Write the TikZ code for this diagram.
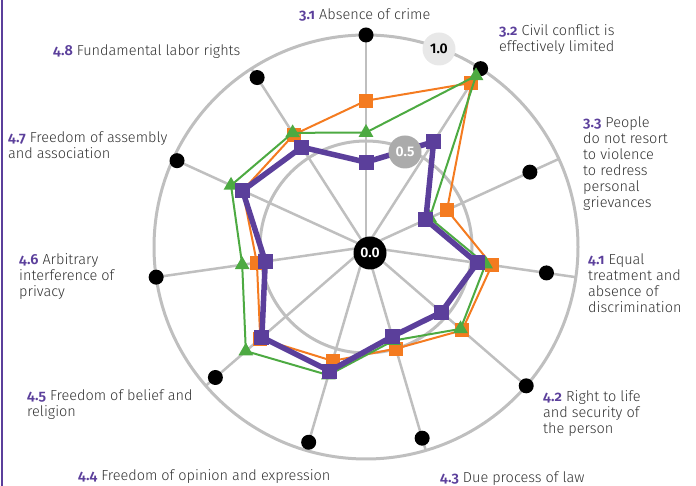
\documentclass[tikz,border=0pt]{standalone}
\usepackage{fontspec}
\setmainfont{Fira Sans}[UprightFont={* Light},BoldFont={* SemiBold}]
\newfontfamily\numfont{Fira Sans}[UprightFont={* SemiBold},Numbers=OldStyle]
\usetikzlibrary{shapes.geometric}

\definecolor{wjpurple}{HTML}{5B3F9B}
\definecolor{wjorange}{HTML}{F47B20}
\definecolor{wjgreen}{HTML}{4DAA42}
\definecolor{gridgray}{HTML}{BFBFBF}
\definecolor{txtgray}{HTML}{333333}
\newcommand{\factorno}[1]{{\numfont\color{wjpurple}#1}}

\begin{document}
\begin{tikzpicture}[x=1pt, y=1pt,
	spoke/.style={gridgray, line width=2.5pt},
	ring/.style={gridgray, line width=3pt},
	dot/.style={circle, fill=black, minimum size=15pt, inner sep=0pt},
	osq/.style={fill=wjorange, minimum size=14pt, inner sep=0pt},
	psq/.style={fill=wjpurple, minimum size=15pt, inner sep=0pt},
	gtri/.style={regular polygon, regular polygon sides=3, fill=wjgreen, minimum size=17pt, inner sep=0pt},
	oline/.style={wjorange, line width=2pt, line join=round},
	gline/.style={wjgreen, line width=2pt, line join=round},
	pline/.style={wjpurple, line width=5.5pt, line join=round},
	scalemark/.style={circle, minimum size=33pt, inner sep=0pt, font=\bfseries\fontsize{14}{14}\selectfont},
	axis label/.style={anchor=north west, align=left, inner sep=0pt, text=txtgray, font=\fontsize{14.5}{16}\selectfont}]
	\useasboundingbox (0,0) rectangle (696,486);
	\draw[wjpurple, line width=2pt] (1.5,0) -- (1.5,486);

	\coordinate (c) at (366,239);
	\begin{scope}[shift={(c)}]
		\foreach \i in {0,...,10}
			\coordinate (e\i) at ({90-\i*360/11}:212pt);
		\foreach \i/\v in {0/1.0,1/1.0,2/0.85,3/0.86,4/1.0,5/0.94,6/0.96,7/0.94,8/1.0,9/0.98,10/0.95}
			\coordinate (d\i) at ({90-\i*360/11}:\v*212pt);
		\foreach \i/\v in {0/0.69,1/0.92,2/0.42,3/0.60,4/0.60,5/0.50,6/0.56,7/0.66,8/0.52,9/0.64,10/0.63}
			\coordinate (o\i) at ({90-\i*360/11}:\v*212pt);
		\foreach \i/\v in {0/0.54,1/0.96,2/0.33,3/0.57,4/0.59,5/0.46,6/0.63,7/0.75,8/0.59,9/0.70,10/0.64}
			\coordinate (g\i) at ({90-\i*360/11}:\v*212pt);
		\foreach \i/\v in {0/0.40,1/0.59,2/0.31,3/0.53,4/0.47,5/0.44,6/0.61,7/0.65,8/0.48,9/0.64,10/0.56}
			\coordinate (p\i) at ({90-\i*360/11}:\v*212pt);
	\end{scope}

	\foreach \i in {0,...,10}
		\draw[spoke] (c) -- (e\i);
	\draw[ring] (c) circle[radius=212pt];
	\draw[ring] (c) circle[radius=106pt];
	\foreach \i in {0,...,10}
		\node[dot] (dm\i) at (d\i) {};

	\draw[oline] (o0) \foreach \i in {1,...,10}{ -- (o\i)} -- cycle;
	\foreach \i in {0,...,10}
		\node[osq] (om\i) at (o\i) {};
	\draw[gline] (g0) \foreach \i in {1,...,10}{ -- (g\i)} -- cycle;
	\foreach \i in {0,...,10}
		\node[gtri] (gm\i) at (g\i) {};
	\draw[pline] (p0) \foreach \i in {1,...,10}{ -- (p\i)} -- cycle;
	\foreach \i in {0,...,10}
		\node[psq] (pm\i) at (p\i) {};

	\node[scalemark, fill=black, text=white] (zero) at (370,233) {0.0};
	\node[scalemark, fill=black!33, text=white] (half) at (405,334) {0.5};
	\node[scalemark, fill=black!9, text=black] (full) at (439,437) {1.0};

	\node[axis label] (l31) at (299,478) {\factorno{3.1} Absence of crime};
	\node[axis label] (l32) at (499,462) {\factorno{3.2} Civil conflict is\\effectively limited};
	\node[axis label] (l33) at (583,369) {\factorno{3.3} People\\do not resort\\to violence\\to redress\\personal\\grievances};
	\node[axis label] (l41) at (588,232) {\factorno{4.1} Equal\\treatment and\\absence of\\discrimination};
	\node[axis label] (l42) at (543,96) {\factorno{4.2} Right to life\\and security of\\the person};
	\node[axis label] (l43) at (440,14) {\factorno{4.3} Due process of law};
	\node[axis label] (l44) at (78,17) {\factorno{4.4} Freedom of opinion and expression};
	\node[axis label] (l45) at (27,97) {\factorno{4.5} Freedom of belief and\\religion};
	\node[axis label] (l46) at (19,233) {\factorno{4.6} Arbitrary\\interference of\\privacy};
	\node[axis label] (l47) at (8,354) {\factorno{4.7} Freedom of assembly\\and association};
	\node[axis label] (l48) at (53,442) {\factorno{4.8} Fundamental labor rights};
\end{tikzpicture}
\end{document}
